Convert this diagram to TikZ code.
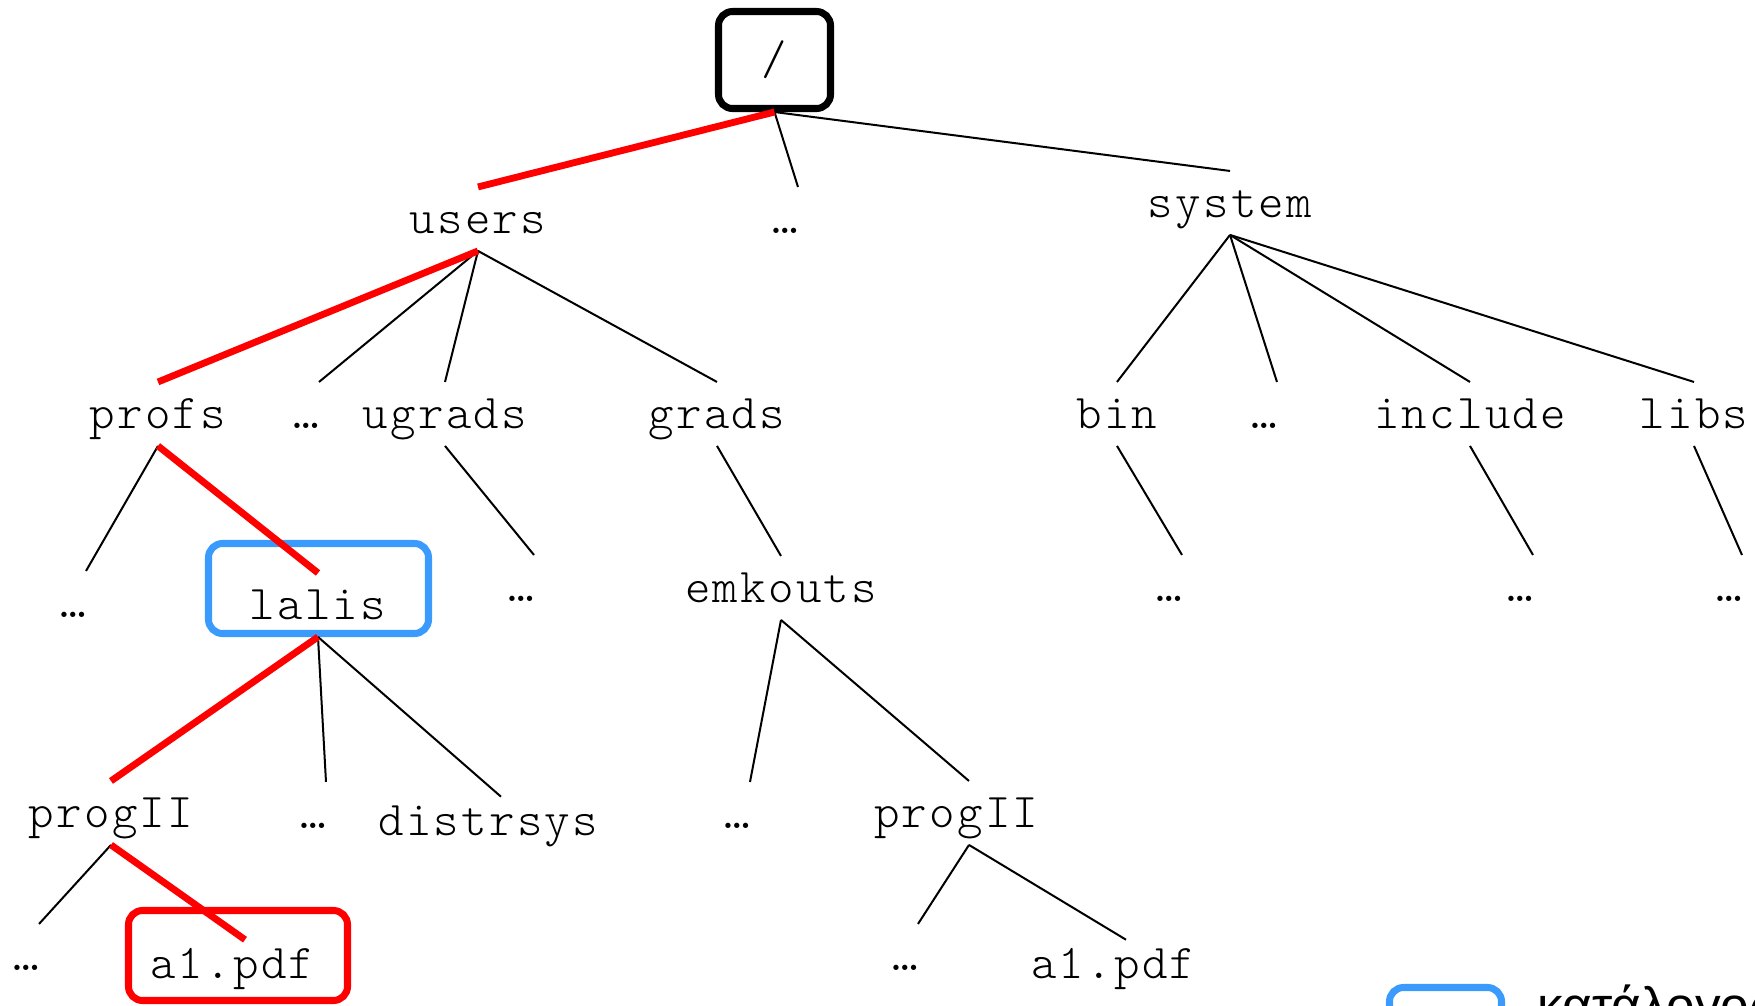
\documentclass[tikz,border=0pt]{standalone}
\usepackage{fontspec}
\setmonofont{lmmonolt10-regular.otf}[LetterSpace=4.7]
\newfontfamily\legendfont{Liberation Sans}
\definecolor{pathred}{RGB}{255,0,0}
\definecolor{dirblue}{RGB}{58,155,253}
\newcommand\lblfont{\ttfamily\fontsize{13.8}{16}\selectfont}
\newcommand\gap{\hphantom{x}}

\begin{document}
\begin{tikzpicture}[x=0.1mm, y=-0.1mm,
  lbl/.style={font=\lblfont, inner sep=0pt, outer sep=0pt, anchor=base,
              text height=13.1pt, text depth=5.1pt},
  leaf/.style={lbl, text height=10.9pt},
  edge/.style={line width=0.57pt, black},
  hot/.style={line width=1.95pt, pathred},
  rootbox/.style={draw, line width=2pt, rounded corners=4pt,
                  minimum width=11.2mm, minimum height=9.7mm,
                  inner sep=0pt, font=\lblfont},
  dirbox/.style={draw=dirblue, line width=2pt, rounded corners=4pt,
                 minimum width=22mm, minimum height=9mm, inner sep=0pt},
  filebox/.style={dirbox, draw=pathred, minimum width=21.9mm}
]
\useasboundingbox (0,0) rectangle (1755,1006);
\clip (0,0) rectangle (1755,1006);

% frames behind the labels
\node[dirbox]  (lalisbox)  at (318.5,588.5) {};
\node[filebox] (a1box)     at (238,955.5) {};
\node[dirbox, minimum width=11.2mm] (legendbox) at (1445.5,1032.5) {};
\node[anchor=base west, inner sep=0pt, font=\legendfont\fontsize{14.6}{16}\selectfont]
     (legend) at (1537,1023) {κατάλογος};

% root
\node[rootbox] (root) at (774.5,60) {/};

% level 1
\node[lbl] (users)  at (478,233)  {users};
\node[lbl] (dotsA)  at (798,233)  {…\gap};
\node[lbl] (system) at (1230,217) {system};

% level 2
\node[lbl] (profs)   at (158,428)  {profs};
\node[lbl] (dotsB)   at (319,428)  {…\gap};
\node[lbl] (ugrads)  at (445,428)  {ugrads};
\node[lbl] (grads)   at (717,428)  {grads};
\node[lbl] (bin)     at (1117,428) {bin};
\node[lbl] (dotsC)   at (1277,428) {…\gap};
\node[lbl] (include) at (1470,428) {include};
\node[lbl] (libs)    at (1694,428) {libs};

% level 3
\node[lbl] (dotsD)   at (86,617)   {…\gap};
\node[lbl] (lalis)   at (318,619)  {lalis};
\node[lbl] (dotsE)   at (534,601)  {…\gap};
\node[lbl] (emkouts) at (781,602)  {emkouts};
\node[lbl] (dotsF)   at (1182,601) {…\gap};
\node[lbl] (dotsG)   at (1533,601) {…\gap};
\node[lbl] (dotsH)   at (1742,601) {…\gap};

% level 4
\node[lbl]  (progA)    at (111,827) {progII};
\node[lbl]  (dotsI)    at (326,828) {…\gap};
\node[leaf] (distrsys) at (501,835) {distrsys\gap};
\node[lbl]  (dotsJ)    at (750,828) {…\gap};
\node[lbl]  (progB)    at (969,827) {progII\gap};

% level 5
\node[lbl]  (dotsK) at (39,970)   {…\gap};
\node[leaf] (fileA) at (245,978)  {a1.pdf\gap};
\node[lbl]  (dotsL) at (918,970)  {…\gap};
\node[leaf] (fileB) at (1126,978) {a1.pdf\gap};

% plain branches
\draw[edge] (root.south) -- (dotsA.north);
\draw[edge] (root.south) -- (system.north);
\draw[edge] (users.south) -- (dotsB.north);
\draw[edge] (users.south) -- (ugrads.north);
\draw[edge] (users.south) -- (grads.north);
\draw[edge] (system.south) -- (bin.north);
\draw[edge] (system.south) -- (dotsC.north);
\draw[edge] (system.south) -- (include.north);
\draw[edge] (system.south) -- (libs.north);
\draw[edge] (profs.south) -- (dotsD.north);
\draw[edge] (ugrads.south) -- (dotsE.north);
\draw[edge] (grads.south) -- (emkouts.north);
\draw[edge] (bin.south) -- (dotsF.north);
\draw[edge] (include.south) -- (dotsG.north);
\draw[edge] (libs.south) -- (dotsH.north);
\draw[edge] (lalis.south) -- (dotsI.north);
\draw[edge] (lalis.south) -- (distrsys.north);
\draw[edge] (emkouts.south) -- (dotsJ.north);
\draw[edge] (emkouts.south) -- (progB.north);
\draw[edge] (progA.south) -- (dotsK.north);
\draw[edge] (progB.south) -- (dotsL.north);
\draw[edge] (progB.south) -- (fileB.north);

% highlighted path /users/profs/lalis/progII/a1.pdf
\draw[hot] (root.south) -- (users.north);
\draw[hot] (users.south) -- (profs.north);
\draw[hot] (profs.south) -- (lalis.north);
\draw[hot] (lalis.south) -- (progA.north);
\draw[hot] (progA.south) -- (fileA.north);
\end{tikzpicture}
\end{document}
